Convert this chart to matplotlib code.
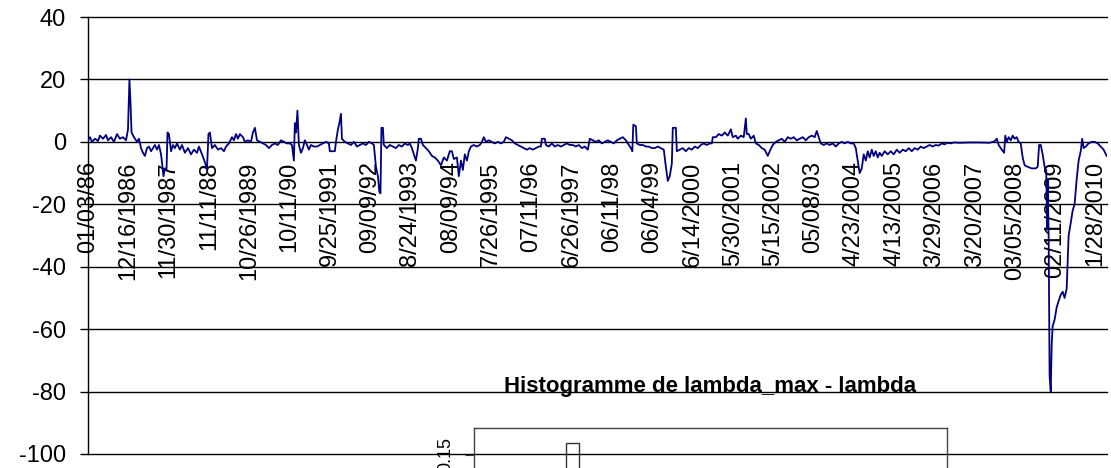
import matplotlib
matplotlib.use('Agg')
import matplotlib.pyplot as plt

plt.rcParams['font.family'] = ['Liberation Sans', 'DejaVu Sans']
plt.rcParams['axes.unicode_minus'] = False

# trading day number and value of the series
day = [0, 12, 25, 43, 62, 74, 93, 112, 124, 143, 161, 180, 198, 217, 236, 248, 257, 264, 270, 285,
       304, 316, 329, 341, 353, 366, 378, 391, 403, 415, 428, 440, 453, 462, 468, 477, 487, 493, 502, 515,
       527, 539, 552, 570, 583, 601, 620, 639, 657, 676, 688, 707, 725, 738, 747, 756, 769, 787, 806, 825,
       843, 856, 874, 893, 905, 918, 930, 942, 961, 973, 992, 1011, 1023, 1035, 1048, 1066, 1085, 1104, 1122, 1141,
       1159, 1178, 1197, 1215, 1234, 1252, 1265, 1277, 1283, 1290, 1299, 1308, 1321, 1333, 1345, 1358, 1370, 1383, 1401, 1420,
       1438, 1457, 1476, 1494, 1500, 1531, 1538, 1550, 1559, 1569, 1575, 1593, 1612, 1631, 1649, 1668, 1686, 1705, 1724, 1742,
       1761, 1773, 1786, 1798, 1807, 1814, 1820, 1829, 1835, 1854, 1872, 1891, 1910, 1928, 1947, 1965, 1984, 1996, 2009, 2021,
       2034, 2046, 2052, 2065, 2077, 2096, 2114, 2133, 2151, 2170, 2189, 2207, 2226, 2244, 2257, 2269, 2288, 2300, 2313, 2325,
       2337, 2350, 2362, 2375, 2393, 2412, 2430, 2443, 2455, 2468, 2486, 2505, 2523, 2542, 2561, 2579, 2592, 2610, 2629, 2647,
       2666, 2685, 2703, 2722, 2740, 2759, 2778, 2796, 2809, 2815, 2833, 2840, 2858, 2877, 2895, 2914, 2933, 2951, 2970, 2988,
       3007, 3026, 3044, 3063, 3081, 3100, 3112, 3131, 3150, 3168, 3187, 3205, 3224, 3243, 3261, 3280, 3298, 3317, 3336, 3354,
       3367, 3376, 3382, 3398, 3404, 3422, 3441, 3460, 3478, 3497, 3515, 3534, 3553, 3571, 3584, 3596, 3608, 3621, 3627, 3646,
       3652, 3670, 3689, 3708, 3726, 3745, 3763, 3782, 3801, 3819, 3838, 3856, 3869, 3875, 3894, 3912, 3931, 3949, 3968, 3987,
       3999, 4018, 4030, 4049, 4067, 4080, 4086, 4098, 4111, 4129, 4142, 4160, 4179, 4197, 4216, 4228, 4247, 4266, 4284, 4303,
       4321, 4340, 4359, 4377, 4396, 4414, 4433, 4452, 4470, 4489, 4507, 4520, 4532, 4545, 4563, 4582, 4600, 4619, 4638, 4656,
       4675, 4693, 4712, 4731, 4749, 4762, 4774, 4786, 4799, 4811, 4824, 4836, 4848, 4861, 4873, 4886, 4898, 4910, 4923, 4941,
       4960, 4979, 4997, 5016, 5034, 5053, 5072, 5090, 5109, 5127, 5146, 5165, 5183, 5202, 5220, 5239, 5258, 5276, 5295, 5313,
       5332, 5351, 5369, 5406, 5468, 5530, 5592, 5623, 5636, 5648, 5667, 5682, 5689, 5698, 5710, 5723, 5735, 5747, 5760, 5772,
       5785, 5797, 5809, 5828, 5853, 5878, 5890, 5899, 5909, 5921, 5933, 5943, 5949, 5952, 5958, 5964, 5971, 5977, 5983, 5995,
       6008, 6020, 6033, 6045, 6057, 6070, 6082, 6095, 6107, 6119, 6132, 6144, 6157, 6166, 6175, 6188, 6206, 6225, 6243, 6262,
       6281, 6299, 6318]
spread = [0.5, 1.5, 0, 1, 0.3, 2, 1, 2.2, 0.5, 1.5, 0, 2.5, 1, 1.5, 0.5, 4, 20, 12, 3, 1.5,
          0, 1, -2, -3.5, -4.5, -2, -1.5, -3, -2, -1, -2.5, -1, -4, -8, -11, -8.5, -9, 3, 2.5, -3,
          -1, -2, -0.5, -2.5, -1, -3.5, -2, -4, -2.5, -3.5, -1.5, -4, -6.5, -9, 2.5, 3, -2, -1, -2.5, -2,
          -3, -1.5, -0.5, 1.5, 0.5, 2.5, 1, 2.5, 1.5, 0, 0.5, 0, 3, 4.5, 0.5, 0, -0.5, -1, -2, -1,
          -0.5, -1, 0.5, 0, -0.5, -0.5, -1, -6, 6, 3, 10, -1, -3.5, -2, 0.5, -1, -2.5, -1, -1.5, -1.5,
          -1, -0.5, 0, -0.5, -3, -3, 0, 4, 6, 9, 1, 0, -0.5, -1, 0, -1.5, -1, -0.5, -1, 0,
          -0.5, -1, -8, -11, -16, -16.5, 4.5, 4.5, -1, -2, -1, -1.5, -2, -1, -1.5, -0.5, -1, -0.5, -2, -4,
          -6, -2, 1, 1, -1, -2, -3, -4.5, -5, -6, -7.5, -5, -6, -3, -3, -5.5, -5, -11, -6, -9,
          -4, -6, -3, -1.5, -1, -1.5, -1, 0, 1.5, 0, 0.5, 0, -0.5, 0, -0.5, 0, 1.5, 1, 0.5, -0.5,
          -1, -1.5, -2, -2.5, -2, -2.5, -2, -1.5, -1.5, 1, 1, -1, -1.5, -0.5, -1.5, -1, -1.5, -1, -0.5, -1,
          -1, -1.5, -1, -2, -1.5, -2.5, 1, 0.5, 0, 0.5, -0.5, 0, 0.5, 0, -0.5, 0.5, 1, 1.5, 0.5, -1,
          -2, -3, 5.5, 5, -0.5, -1, -1, -1.5, -1.5, -2, -2, -1.5, -2, -2.5, -8, -12.5, -11, -7, 4.5, 4.5,
          -3, -2.5, -2, -3, -2, -2.5, -1.5, -2, -1, -0.5, -1, -0.5, -0.5, 1.5, 1.5, 2.5, 2, 3, 2, 4,
          1.5, 2, 1, 2, 1.5, 7.5, 2.5, 2.5, 1, 2, -0.5, -1, -2, -2.5, -4.5, -3, -1, 0, 0.5, 1,
          0, 1.5, 1, 1.5, 0.5, 1, 1.5, 0.5, 1.5, 2, 1.5, 3.5, 1.5, -0.5, -1, -0.5, -1, -0.5, -1.5, -0.5,
          0, -0.5, 0, -0.5, -0.5, -2, -6, -10, -8.5, -4, -6, -3, -5, -2.5, -4.5, -3, -5, -3.5, -4.5, -3,
          -4, -3, -4, -2.5, -3.5, -2.5, -3, -2, -3, -2, -2.5, -1.5, -2, -1.5, -1, -1.5, -1, -1.2, -0.5, -0.8,
          -0.3, -0.5, -0.2, -0.3, -0.2, -0.2, -0.3, 0.2, 1, -1, -2.5, -3.5, 2, 0, 1.5, 0.5, 2, 1, 1.5, 0,
          -0.5, -5, -7.5, -8, -8.5, -8.5, -8, -1, -1, -4, -8, -9, -28, -12, -30, -75, -80, -65, -59, -57,
          -53, -51, -49, -48, -50, -47, -30, -26, -22, -20, -12, -6, -3, 1, -2, -1.5, -0.5, 0, 0, -0.5,
          -1.5, -2.5, -4.5]

date_labels = ['01/03/86', '12/16/1986', '11/30/1987', '11/11/88', '10/26/1989', '10/11/90',
               '9/25/1991', '09/09/92', '8/24/1993', '08/09/94', '7/26/1995', '07/11/96',
               '6/26/1997', '06/11/98', '06/04/99', '6/14/2000', '5/30/2001', '5/15/2002',
               '05/08/03', '4/23/2004', '4/13/2005', '3/29/2006', '3/20/2007', '03/05/2008',
               '02/11/2009', '1/28/2010']
label_step = 250  # one date label every 250 observations

# inset histogram (only the top of it is visible)
hist_left = [3, 4, 5, 6, 7, 8, 9, 10, 11]
hist_density = [0.03, 0.06, 0.09, 0.11, 0.17, 0.12, 0.08, 0.05, 0.02]

W, H = 1111, 468
fig = plt.figure(figsize=(W / 100, H / 100), dpi=100)

ax = fig.add_axes([88 / W, 1 - 454 / H, 1019 / W, (454 - 17) / H])
# category axis crosses the value axis at 0 (set before the ticks, it resets them)
ax.spines['bottom'].set_position(('data', 0))
ax.spines['bottom'].set_visible(False)
ax.spines['top'].set_visible(False)
ax.spines['right'].set_visible(False)
ax.spines['left'].set_linewidth(1)

ax.plot(day, spread, color='#000080', lw=1.3, zorder=3)
ax.set_xlim(0, 6320)
ax.set_ylim(-100, 40)
ax.set_yticks(range(-100, 41, 20))
ax.set_xticks([i * label_step for i in range(len(date_labels))])
ax.set_xticklabels(date_labels)
ax.tick_params(axis='x', length=0, pad=14, labelsize=17, labelrotation=90)
ax.tick_params(axis='y', length=6, width=1, pad=10, labelsize=17)
ax.grid(axis='y', color='black', lw=1)
for gl in ax.yaxis.get_gridlines():
    gl.set_clip_on(False)

# histogram inset
hax = fig.add_axes([474 / W, (H - 549) / H, 473 / W, 121 / H])
hax.patch.set_alpha(0)
hax.bar(hist_left, hist_density, width=1, align='edge', fill=False,
        edgecolor='#333333', lw=1)
hax.set_xlim(0, 36)
hax.set_ylim(-0.007, 0.195)
hax.set_xticks([])
hax.set_yticks([0.15])
hax.set_yticklabels(['0.15'], rotation=90, va='center')
hax.tick_params(axis='y', length=6.5, width=0.8, pad=8, labelsize=13, color='#333333')
for s in hax.spines.values():
    s.set_color('#444444')
    s.set_linewidth(1)
hax.set_title('Histogramme de lambda_max - lambda', fontsize=16, fontweight='bold', pad=26)

fig.savefig('out.png', dpi=100)
